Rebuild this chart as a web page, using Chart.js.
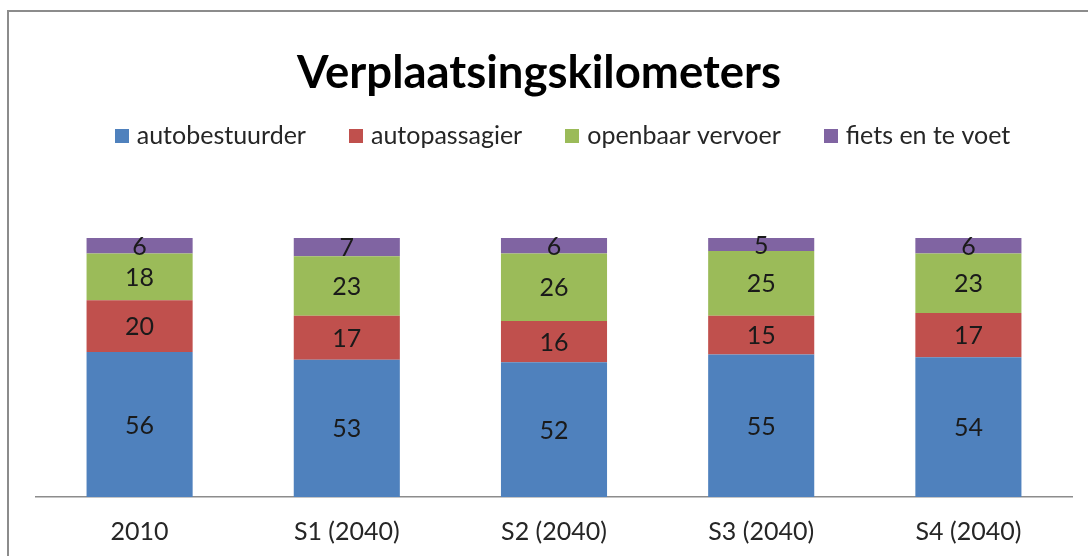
<!DOCTYPE html>
<html><head><meta charset="utf-8">
<script src="https://cdn.jsdelivr.net/npm/chart.js@4/dist/chart.umd.min.js"></script>
<style>
html,body{margin:0;padding:0;background:#fff;overflow:hidden;width:1088px;height:556px;}
#frame{position:absolute;left:7px;top:10px;width:1300px;height:800px;border:2px solid #8c8c8c;box-sizing:border-box;}
#c{position:absolute;left:0;top:0;}
</style></head><body>
<div id="frame"></div>
<canvas id="c" width="1088" height="556"></canvas>
<script>
const categories = ['2010', 'S1 (2040)', 'S2 (2040)', 'S3 (2040)', 'S4 (2040)'];
const autobestuurder = [56, 53, 52, 55, 54];
const autopassagier = [20, 17, 16, 15, 17];
const openbaarVervoer = [18, 23, 26, 25, 23];
const fietsEnTeVoet = [6, 7, 6, 5, 6];
const seriesNames = ['autobestuurder', 'autopassagier', 'openbaar vervoer', 'fiets en te voet'];
const seriesColors = ['#4F81BD', '#C0504D', '#9BBB59', '#8064A2'];
const titleText = 'Verplaatsingskilometers';

const FONT = 'Lato, "Open Sans", sans-serif';
const TITLE_SHIFT = -15;
const LEGEND_SHIFT = 10.75;
const LEGEND_H = 162.5;

function swatch(color) {
  const c = document.createElement('canvas');
  c.width = 14; c.height = 14;
  const g = c.getContext('2d');
  g.fillStyle = color;
  g.fillRect(0, 0, 14, 14);
  return c;
}

const dataLabels = {
  id: 'dataLabels',
  afterDatasetsDraw(chart) {
    const ctx = chart.ctx;
    ctx.save();
    ctx.font = '25px ' + FONT;
    ctx.fillStyle = '#1a1a1a';
    ctx.textAlign = 'center';
    ctx.textBaseline = 'middle';
    chart.data.datasets.forEach((ds, i) => {
      chart.getDatasetMeta(i).data.forEach((el, j) => {
        const p = el.getProps(['x', 'y', 'base'], true);
        ctx.fillText(String(ds.data[j]), p.x, (p.y + p.base) / 2 + 1);
      });
    });
    ctx.restore();
  }
};

const boxTweaks = {
  id: 'boxTweaks',
  beforeInit(chart) {
    const lg = chart.legend;
    const fit = lg.fit;
    lg.fit = function () { fit.call(this); this.height = LEGEND_H; };
  },
  afterLayout(chart) {
    const t = chart.titleBlock;
    if (t) { t.left += TITLE_SHIFT; t.right += TITLE_SHIFT; }
    const l = chart.legend;
    if (l) { l.left += LEGEND_SHIFT; l.right += LEGEND_SHIFT; }
  }
};

new Chart(document.getElementById('c'), {
  type: 'bar',
  data: {
    labels: categories,
    datasets: [
      { label: seriesNames[0], data: autobestuurder, backgroundColor: seriesColors[0] },
      { label: seriesNames[1], data: autopassagier, backgroundColor: seriesColors[1] },
      { label: seriesNames[2], data: openbaarVervoer, backgroundColor: seriesColors[2] },
      { label: seriesNames[3], data: fietsEnTeVoet, backgroundColor: seriesColors[3] }
    ]
  },
  options: {
    responsive: false,
    animation: false,
    events: [],
    layout: { padding: { left: 36, right: 16, top: 0, bottom: 9 } },
    datasets: { bar: { categoryPercentage: 1, barPercentage: 0.512, borderWidth: 0 } },
    plugins: {
      title: {
        display: true,
        text: titleText,
        color: '#000',
        font: { family: FONT, size: 45.5, weight: 'bold', lineHeight: '2px' },
        padding: { top: 72, bottom: 1.5 }
      },
      legend: {
        display: true,
        position: 'top',
        labels: {
          color: '#262626',
          font: { family: FONT, size: 25 },
          usePointStyle: true,
          boxWidth: 5,
          boxHeight: 14,
          padding: 47.5,
          generateLabels(chart) {
            const items = Chart.defaults.plugins.legend.labels.generateLabels(chart);
            items.forEach(it => { it.pointStyle = swatch(seriesColors[it.datasetIndex]); });
            return items;
          }
        }
      },
      tooltip: { enabled: false }
    },
    scales: {
      x: {
        stacked: true,
        grid: { display: false, drawTicks: false },
        border: { display: true, color: '#8c8c8c', width: 1.5 },
        ticks: { color: '#262626', font: { family: FONT, size: 25 }, padding: 20 },
        afterFit(scale) { scale.height = 50; }
      },
      y: {
        stacked: true,
        display: false,
        min: 0,
        max: 100
      }
    }
  },
  plugins: [dataLabels, boxTweaks]
});
</script>
</body></html>
